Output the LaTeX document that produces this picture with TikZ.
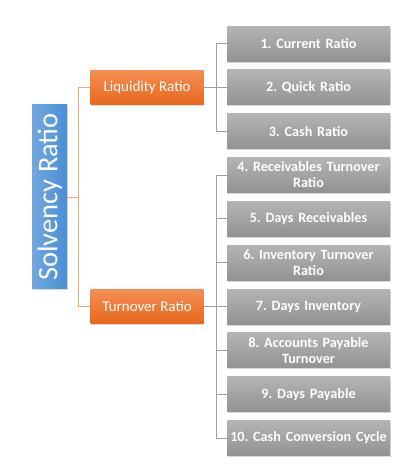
\documentclass[tikz,border=0pt]{standalone}
\usepackage{fontspec}
\setmainfont{Carlito}
\usepackage{xcolor}
\usetikzlibrary{positioning,calc,shadows}
\definecolor{graytop}{RGB}{180,180,180}
\definecolor{graybot}{RGB}{146,146,146}
\definecolor{orangetop}{RGB}{242,142,84}
\definecolor{orangebot}{RGB}{232,104,28}
\definecolor{bluelight}{RGB}{114,168,222}
\definecolor{bluedark}{RGB}{74,142,214}
\definecolor{orangeline}{RGB}{244,160,112}
\definecolor{grayline}{RGB}{160,160,160}
\frenchspacing

\begin{document}
\begin{tikzpicture}[
    node distance=8.44pt,
    ratiobox/.style={minimum width=163pt, minimum height=35pt, inner sep=0pt, align=center, text width=161pt, text=white,
        font=\bfseries\fontsize{14.2}{16}\selectfont, top color=graytop, bottom color=graybot,
        drop shadow={shadow xshift=0.8pt, shadow yshift=-1.5pt, opacity=0.3}},
    groupbox/.style={minimum width=113pt, minimum height=34pt, inner sep=0pt, align=center, text=white,
        font=\fontsize{15}{18}\selectfont, top color=orangetop, bottom color=orangebot,
        drop shadow={shadow xshift=0.8pt, shadow yshift=-1.5pt, opacity=0.3}},
    rootbox/.style={minimum width=35pt, minimum height=184pt, inner sep=0pt, text=white,
        font=\fontsize{28.5}{32}\selectfont, left color=bluelight, right color=bluedark,
        drop shadow={shadow xshift=0.8pt, shadow yshift=-1.5pt, opacity=0.3}},
    oline/.style={draw=orangeline, line width=0.8pt},
    gline/.style={draw=grayline, line width=0.8pt}
]
\useasboundingbox (0,0) rectangle (416pt,-466pt);

% ratio boxes
\node[ratiobox] (c1) at (308.5pt,-43.5pt) {1. Current Ratio};
\node[ratiobox, below=of c1] (c2) {2. Quick Ratio};
\node[ratiobox, below=of c2] (c3) {3. Cash Ratio};
\node[ratiobox, below=of c3] (c4) {4. Receivables Turnover\\Ratio};
\node[ratiobox, below=of c4] (c5) {5. Days Receivables};
\node[ratiobox, below=of c5] (c6) {6. Inventory Turnover\\Ratio};
\node[ratiobox, below=of c6] (c7) {7. Days Inventory};
\node[ratiobox, below=of c7] (c8) {8. Accounts Payable\\Turnover};
\node[ratiobox, below=of c8] (c9) {9. Days Payable};
\node[ratiobox, below=of c9] (c10) {10. Cash Conversion Cycle};

% groups
\node[groupbox, left=23pt of c2] (liq) {Liquidity Ratio};
\node[groupbox, left=23pt of c7] (turn) {Turnover Ratio};

\coordinate (mid) at ($(liq.west)!0.5!(turn.west)$);
\node[rootbox, left=23pt of mid] (root) {\rotatebox{90}{Solvency Ratio}};

% connectors
\coordinate[right=11pt of root.east] (rj);
\draw[oline] (root.east) -- (rj);
\draw[oline] (rj) |- (liq.west);
\draw[oline] (rj) |- (turn.west);

\coordinate[right=13pt of liq.east] (lj);
\draw[gline] (liq.east) -- (c2.west);
\draw[gline] (lj) |- (c1.west);
\draw[gline] (lj) |- (c3.west);

\coordinate[right=13pt of turn.east] (tj);
\draw[gline] (turn.east) -- (c7.west);
\foreach \i in {4,...,10}
    \draw[gline] (tj) |- (c\i.west);
\end{tikzpicture}
\end{document}
